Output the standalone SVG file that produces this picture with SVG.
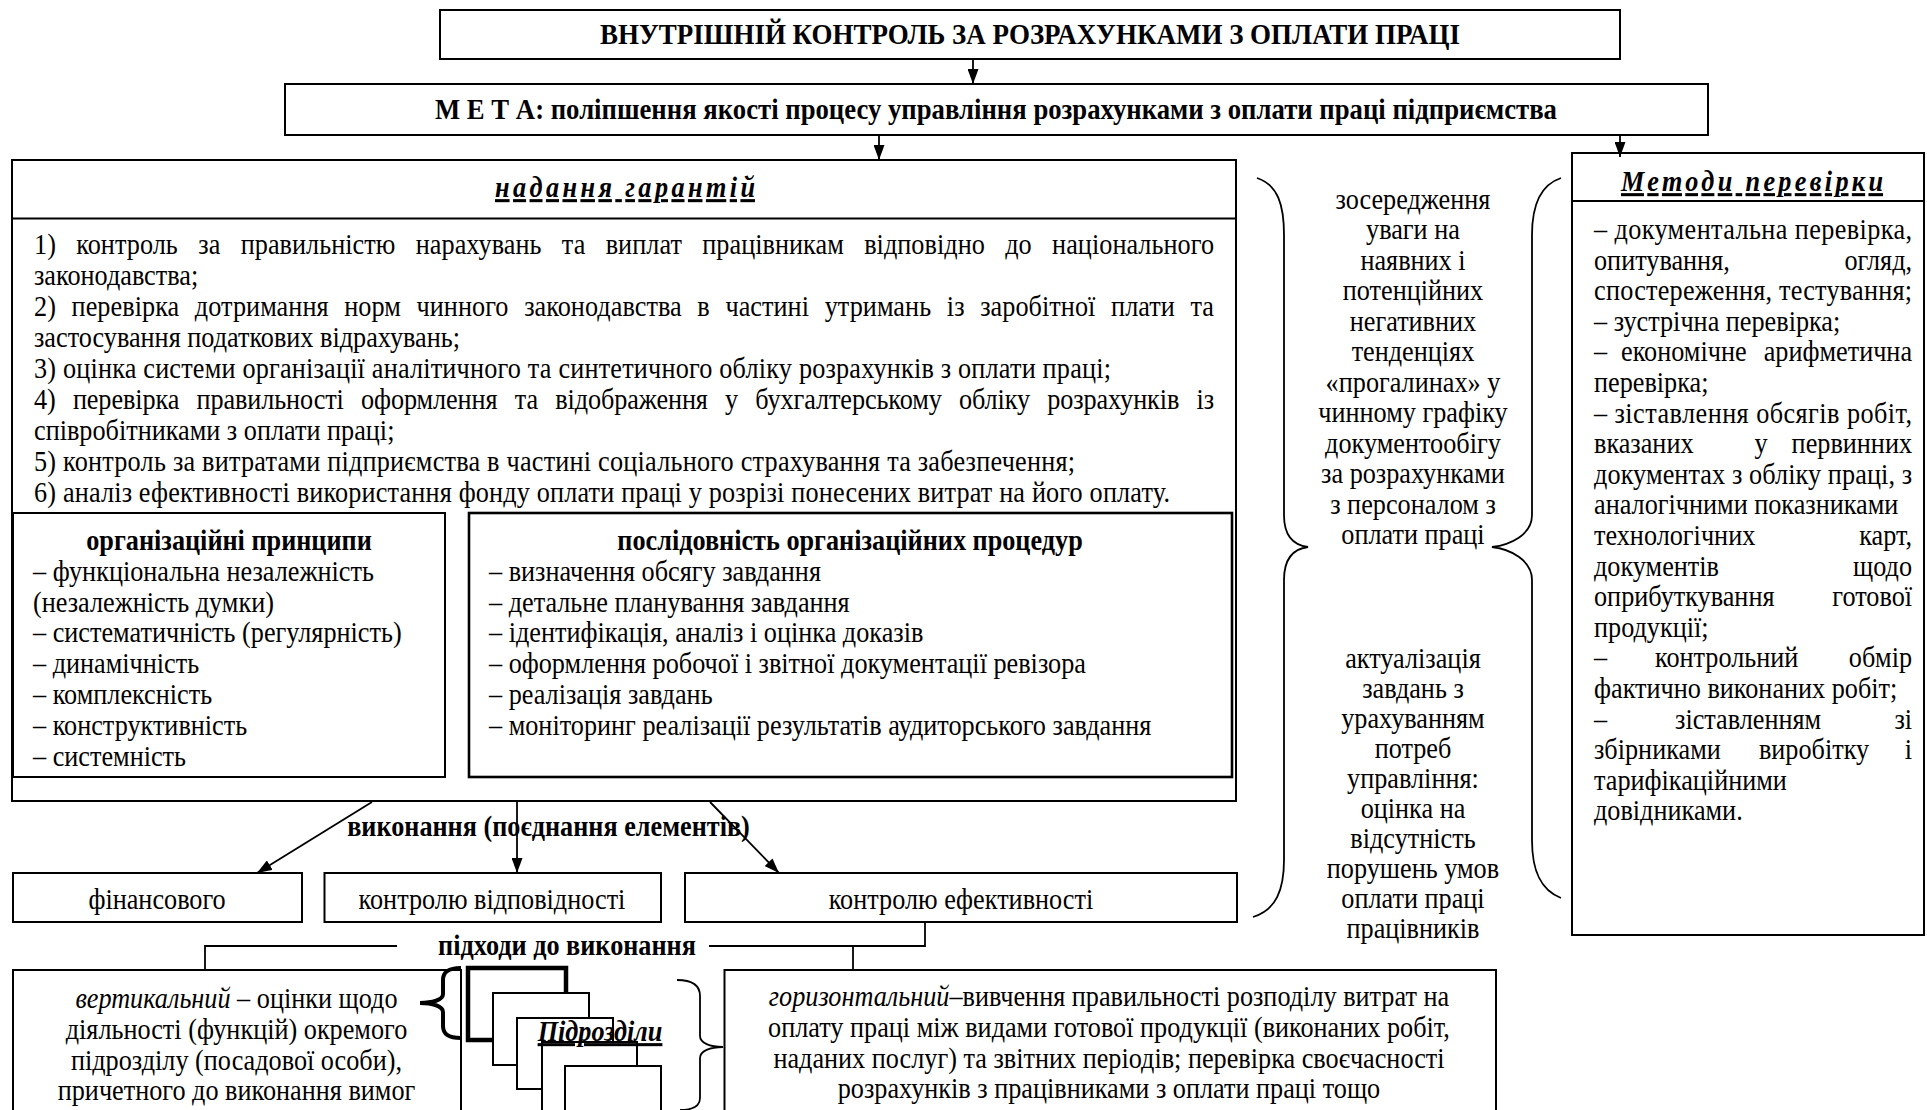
<svg xmlns="http://www.w3.org/2000/svg" width="1927" height="1110" viewBox="0 0 1927 1110">
<defs>
<style>
.t{font-family:"Liberation Serif","Times New Roman",serif;font-size:30.5px;fill:#000}
.b{font-weight:bold}
.i{font-style:italic}
.c{text-anchor:middle}
.e{text-anchor:end}
.u{text-decoration:underline}
.box{fill:#fff;stroke:#000;stroke-width:2}
.ln{fill:none;stroke:#000;stroke-width:1.8}
.br{fill:none;stroke:#000;stroke-width:1.8}
</style>
<marker id="ah" viewBox="0 0 15 11" refX="15" refY="5.5" markerWidth="15" markerHeight="11" markerUnits="userSpaceOnUse" orient="auto">
<path d="M0,0 L15,5.5 L0,11 z" fill="#000"/>
</marker>
</defs>
<rect width="1927" height="1110" fill="#fff"/>

<g id="title">
<rect class="box" x="440" y="10" width="1180" height="49"/>
<g transform="scale(0.86 1)">
<text class="t b c" x="1197.7" y="44" textLength="1000" lengthAdjust="spacingAndGlyphs">ВНУТРІШНІЙ КОНТРОЛЬ ЗА РОЗРАХУНКАМИ З ОПЛАТИ ПРАЦІ</text>
</g>
</g>

<g id="meta">
<rect class="box" x="285" y="84" width="1423" height="51"/>
<g transform="scale(0.86 1)">
<text class="t b c" x="1158.1" y="119" textLength="1304.7" lengthAdjust="spacingAndGlyphs">М Е Т А: поліпшення якості процесу управління розрахунками з оплати праці підприємства</text>
</g>
</g>

<g id="guarantees">
<rect class="box" x="12" y="160" width="1224" height="641"/>
<line class="ln" x1="12" y1="218.5" x2="1236" y2="218.5"/>
<g transform="scale(0.86 1)">
<text class="t b i u" x="575.6" y="197" textLength="302.3" lengthAdjust="spacing">надання гарантій</text>
<text class="t" x="39.53" y="254" word-spacing="16" textLength="1372.1" lengthAdjust="spacing">1) контроль за правильністю нарахувань та виплат працівникам відповідно до національного</text>
<text class="t" x="39.53" y="285">законодавства;</text>
<text class="t" x="39.53" y="316" word-spacing="10.5" textLength="1372.1" lengthAdjust="spacing">2) перевірка дотримання норм чинного законодавства в частині утримань із заробітної плати та</text>
<text class="t" x="39.53" y="347">застосування податкових відрахувань;</text>
<text class="t" x="39.53" y="378" textLength="1252.3" lengthAdjust="spacing">3) оцінка системи організації аналітичного та синтетичного обліку розрахунків з оплати праці;</text>
<text class="t" x="39.53" y="409" word-spacing="12.5" textLength="1372.1" lengthAdjust="spacing">4) перевірка правильності оформлення та відображення у бухгалтерському обліку розрахунків із</text>
<text class="t" x="39.53" y="440">співробітниками з оплати праці;</text>
<text class="t" x="39.53" y="471" textLength="1210.5" lengthAdjust="spacing">5) контроль за витратами підприємства в частині соціального страхування та забезпечення;</text>
<text class="t" x="39.53" y="502" textLength="1320.9" lengthAdjust="spacing">6) аналіз ефективності використання фонду оплати праці у розрізі понесених витрат на його оплату.</text>
</g>
</g>

<g id="principles">
<rect class="box" x="13" y="513" width="432" height="264"/>
<g transform="scale(0.86 1)">
<text class="t b c" x="266.3" y="550">організаційні принципи</text>
<text class="t" x="38.37" y="581">– функціональна незалежність</text>
<text class="t" x="38.37" y="612">(незалежність думки)</text>
<text class="t" x="38.37" y="642">– систематичність (регулярність)</text>
<text class="t" x="38.37" y="673">– динамічність</text>
<text class="t" x="38.37" y="704">– комплексність</text>
<text class="t" x="38.37" y="735">– конструктивність</text>
<text class="t" x="38.37" y="766">– системність</text>
</g>
</g>

<g id="procedures">
<rect class="box" x="469" y="513" width="763" height="264" style="stroke-width:2.6"/>
<g transform="scale(0.86 1)">
<text class="t b c" x="988.4" y="550">послідовність організаційних процедур</text>
<text class="t" x="568.6" y="581">– визначення обсягу завдання</text>
<text class="t" x="568.6" y="612">– детальне планування завдання</text>
<text class="t" x="568.6" y="642">– ідентифікація, аналіз і оцінка доказів</text>
<text class="t" x="568.6" y="673">– оформлення робочої і звітної документації ревізора</text>
<text class="t" x="568.6" y="704">– реалізація завдань</text>
<text class="t" x="568.6" y="735">– моніторинг реалізації результатів аудиторського завдання</text>
</g>
</g>

<g id="methods">
<rect class="box" x="1572" y="153" width="352" height="782"/>
<line class="ln" x1="1572" y1="201" x2="1924" y2="201"/>
<g transform="scale(0.86 1)">
<text class="t b i u" x="1884.9" y="191" textLength="304.7" lengthAdjust="spacing">Методи перевірки</text>
<text class="t" x="1853.5" y="239" textLength="369.8" lengthAdjust="spacing">– документальна перевірка,</text>
<text class="t" x="1853.5" y="269.6">опитування,</text><text class="t e" x="2223.3" y="269.6">огляд,</text>
<text class="t" x="1853.5" y="300.2" textLength="369.8" lengthAdjust="spacing">спостереження, тестування;</text>
<text class="t" x="1853.5" y="330.8">– зустрічна перевірка;</text>
<text class="t" x="1853.5" y="361.4">–</text><text class="t" x="1884.9" y="361.4">економічне</text><text class="t e" x="2223.3" y="361.4">арифметична</text>
<text class="t" x="1853.5" y="392">перевірка;</text>
<text class="t" x="1853.5" y="422.6" textLength="369.8" lengthAdjust="spacing">– зіставлення обсягів робіт,</text>
<text class="t" x="1853.5" y="453.2">вказаних</text><text class="t c" x="2047.7" y="453.2">у</text><text class="t e" x="2223.3" y="453.2">первинних</text>
<text class="t" x="1853.5" y="483.8" textLength="369.8" lengthAdjust="spacing">документах з обліку праці, з</text>
<text class="t" x="1853.5" y="514.4">аналогічними показниками</text>
<text class="t" x="1853.5" y="545">технологічних</text><text class="t e" x="2223.3" y="545">карт,</text>
<text class="t" x="1853.5" y="575.6">документів</text><text class="t e" x="2223.3" y="575.6">щодо</text>
<text class="t" x="1853.5" y="606.2">оприбуткування</text><text class="t e" x="2223.3" y="606.2">готової</text>
<text class="t" x="1853.5" y="636.8">продукції;</text>
<text class="t" x="1853.5" y="667.4">–</text><text class="t" x="1924.4" y="667.4">контрольний</text><text class="t e" x="2223.3" y="667.4">обмір</text>
<text class="t" x="1853.5" y="698">фактично виконаних робіт;</text>
<text class="t" x="1853.5" y="728.6">–</text><text class="t" x="1947.7" y="728.6">зіставленням</text><text class="t e" x="2223.3" y="728.6">зі</text>
<text class="t" x="1853.5" y="759.2">збірниками</text><text class="t" x="2045.3" y="759.2">виробітку</text><text class="t e" x="2223.3" y="759.2">і</text>
<text class="t" x="1853.5" y="789.8">тарифікаційними</text>
<text class="t" x="1853.5" y="820.4">довідниками.</text>
</g>
</g>

<g id="focus">
<g transform="scale(0.86 1)">
<text class="t c" x="1643" y="209">зосередження</text>
<text class="t c" x="1643" y="239.5">уваги на</text>
<text class="t c" x="1643" y="270">наявних і</text>
<text class="t c" x="1643" y="300.5">потенційних</text>
<text class="t c" x="1643" y="331">негативних</text>
<text class="t c" x="1643" y="361.5">тенденціях</text>
<text class="t c" x="1643" y="392">«прогалинах» у</text>
<text class="t c" x="1643" y="422.5">чинному графіку</text>
<text class="t c" x="1643" y="453">документообігу</text>
<text class="t c" x="1643" y="483.5">за розрахунками</text>
<text class="t c" x="1643" y="514">з персоналом з</text>
<text class="t c" x="1643" y="544.5">оплати праці</text>
</g>
</g>

<g id="actualization">
<g transform="scale(0.86 1)">
<text class="t c" x="1643" y="668">актуалізація</text>
<text class="t c" x="1643" y="698">завдань з</text>
<text class="t c" x="1643" y="728">урахуванням</text>
<text class="t c" x="1643" y="758">потреб</text>
<text class="t c" x="1643" y="788">управління:</text>
<text class="t c" x="1643" y="818">оцінка на</text>
<text class="t c" x="1643" y="848">відсутність</text>
<text class="t c" x="1643" y="878">порушень умов</text>
<text class="t c" x="1643" y="908">оплати праці</text>
<text class="t c" x="1643" y="938">працівників</text>
</g>
</g>

<g id="financial">
<rect class="box" x="13" y="873" width="289" height="49"/>
<g transform="scale(0.86 1)"><text class="t c" x="182.6" y="909">фінансового</text></g>
</g>
<g id="compliance">
<rect class="box" x="324.5" y="873" width="336.5" height="49"/>
<g transform="scale(0.86 1)"><text class="t c" x="572.1" y="909">контролю відповідності</text></g>
</g>
<g id="efficiency">
<rect class="box" x="685" y="873" width="552" height="49"/>
<g transform="scale(0.86 1)"><text class="t c" x="1117.4" y="909">контролю ефективності</text></g>
</g>

<g id="vertical">
<rect class="box" x="13" y="970" width="448" height="160"/>
<g transform="scale(0.86 1)">
<text class="t c" x="275" y="1008"><tspan class="i">вертикальний</tspan> – оцінки щодо</text>
<text class="t c" x="275" y="1039">діяльності (функцій) окремого</text>
<text class="t c" x="275" y="1070">підрозділу (посадової особи),</text>
<text class="t c" x="275" y="1100">причетного до виконання вимог</text>
</g>
</g>

<g id="horizontal">
<rect class="box" x="724.5" y="970" width="771.5" height="160"/>
<g transform="scale(0.86 1)">
<text class="t c" x="1289.5" y="1006"><tspan class="i">горизонтальний</tspan>–вивчення правильності розподілу витрат на</text>
<text class="t c" x="1289.5" y="1037">оплату праці між видами готової продукції (виконаних робіт,</text>
<text class="t c" x="1289.5" y="1068">наданих послуг) та звітних періодів; перевірка своєчасності</text>
<text class="t c" x="1289.5" y="1098">розрахунків з працівниками з оплати праці тощо</text>
</g>
</g>

<g id="units">
<rect x="468" y="968" width="98" height="72" fill="#fff" stroke="#000" stroke-width="4.5"/>
<rect x="493" y="993" width="96" height="72" fill="#fff" stroke="#000" stroke-width="2"/>
<rect x="517" y="1018" width="96" height="71" fill="#fff" stroke="#000" stroke-width="2"/>
<rect x="542" y="1042" width="95" height="80" fill="#fff" stroke="#000" stroke-width="2"/>
<rect x="565" y="1066" width="96" height="60" fill="#fff" stroke="#000" stroke-width="2"/>
<g transform="scale(0.86 1)"><text class="t b i u c" x="697.7" y="1041">Підрозділи</text></g>
</g>

<g id="connectors">
<line class="ln" x1="973" y1="59" x2="973" y2="84" marker-end="url(#ah)"/>
<line class="ln" x1="879" y1="135" x2="879" y2="160" marker-end="url(#ah)"/>
<line class="ln" x1="1620" y1="135" x2="1620" y2="157" marker-end="url(#ah)"/>
<line class="ln" x1="372" y1="802" x2="257" y2="873" marker-end="url(#ah)"/>
<line class="ln" x1="517" y1="802" x2="517" y2="873" marker-end="url(#ah)"/>
<line class="ln" x1="710" y1="802" x2="779" y2="873" marker-end="url(#ah)"/>
<g transform="scale(0.86 1)"><text class="t b c" x="637.8" y="836">виконання (поєднання елементів)</text></g>
<polyline class="ln" points="397,946 205,946 205,970"/>
<polyline class="ln" points="925,922 925,946 709,946"/>
<line class="ln" x1="853" y1="946" x2="853" y2="970"/>
<g transform="scale(0.86 1)"><text class="t b c" x="659.3" y="955">підходи до виконання</text></g>
<path class="br" d="M1257,178 C1278,185 1284,205 1284,235 L1284,515 C1284,535 1292,545 1308,547 C1292,549 1284,560 1284,580 L1284,860 C1284,890 1276,910 1253,917"/>
<path class="br" d="M1561,178 C1540,185 1532,205 1532,235 L1532,515 C1532,535 1510,545 1492,547 C1510,549 1532,560 1532,580 L1532,840 C1532,870 1540,890 1561,898"/>
<path fill="none" stroke="#000" stroke-width="4" d="M461,968 C448,968 443,972 443,980 L443,994 C443,1000 432,1003 420,1003 C432,1003 443,1006 443,1012 L443,1026 C443,1034 448,1038 461,1038"/>
<path class="br" d="M677,980 C694,980 700,986 700,996 L700,1036 C700,1043 710,1047 723,1047 C710,1047 700,1051 700,1058 L700,1098 C700,1106 694,1110 680,1110"/>
</g>
</svg>
